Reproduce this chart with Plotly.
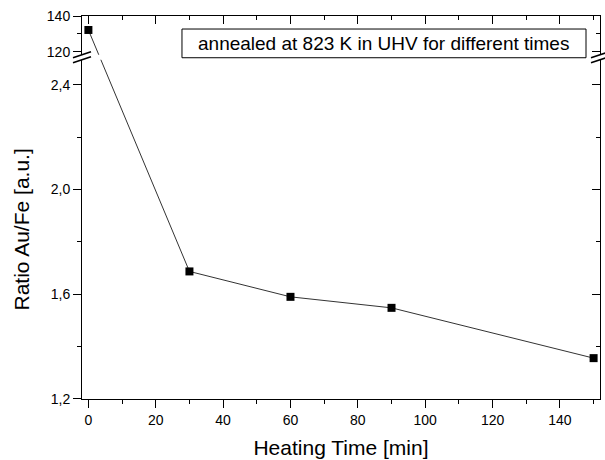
import plotly.graph_objects as go

# ---- data ----
heating_time = [0, 30, 60, 90, 150]
ratio_au_fe = [132.2, 1.687, 1.590, 1.548, 1.356]

x_title = "Heating Time [min]"
y_title = "Ratio Au/Fe [a.u.]"
note = "annealed at 823 K in UHV for different times"

# ---- axis settings (broken y-axis) ----
x_range = [-1.9, 151.9]
low_range = [1.2, 2.495]
up_range = [118.33, 140]
low_dom = [0.0, 0.8857]
up_dom = [0.8987, 1.0]
BREAK = 100  # values above this belong to the upper section

FONT = "Arial, Liberation Sans, sans-serif"


def low_to_frac(v):
    return low_dom[0] + (v - low_range[0]) / (low_range[1] - low_range[0]) * (low_dom[1] - low_dom[0])


def up_to_frac(v):
    return up_dom[0] + (v - up_range[0]) / (up_range[1] - up_range[0]) * (up_dom[1] - up_dom[0])


def frac_to_low(f):
    return low_range[0] + (f - low_dom[0]) / (low_dom[1] - low_dom[0]) * (low_range[1] - low_range[0])


def frac_to_up(f):
    return up_range[0] + (f - up_dom[0]) / (up_dom[1] - up_dom[0]) * (up_range[1] - up_range[0])


# map every point into each section's coordinates (same visual position)
frac = [up_to_frac(v) if v > BREAK else low_to_frac(v) for v in ratio_au_fe]
y_in_low = [frac_to_low(f) for f in frac]
y_in_up = [frac_to_up(f) for f in frac]

fig = go.Figure()

line_style = dict(color="#333333", width=1)

# connecting lines, clipped by each subplot
fig.add_trace(go.Scatter(x=heating_time, y=y_in_low, mode="lines", line=line_style,
                         xaxis="x", yaxis="y", showlegend=False, hoverinfo="skip"))
fig.add_trace(go.Scatter(x=heating_time, y=y_in_up, mode="lines", line=line_style,
                         xaxis="x2", yaxis="y2", showlegend=False, hoverinfo="skip"))

# markers
low_x = [t for t, v in zip(heating_time, ratio_au_fe) if v <= BREAK]
low_y = [v for v in ratio_au_fe if v <= BREAK]
up_x = [t for t, v in zip(heating_time, ratio_au_fe) if v > BREAK]
up_y = [v for v in ratio_au_fe if v > BREAK]
mk = dict(symbol="square", size=8, color="black")
fig.add_trace(go.Scatter(x=low_x, y=low_y, mode="markers", marker=mk,
                         xaxis="x", yaxis="y", showlegend=False, cliponaxis=False))
fig.add_trace(go.Scatter(x=up_x, y=up_y, mode="markers", marker=mk,
                         xaxis="x2", yaxis="y2", showlegend=False, cliponaxis=False))

# dummy traces to attach the mirrored right-side axes
fig.add_trace(go.Scatter(x=[None], y=[None], xaxis="x", yaxis="y3", showlegend=False, hoverinfo="skip"))
fig.add_trace(go.Scatter(x=[None], y=[None], xaxis="x2", yaxis="y4", showlegend=False, hoverinfo="skip"))

tickfont = dict(family=FONT, size=14, color="black")
common = dict(showgrid=False, zeroline=False, showline=True, linecolor="black", linewidth=1,
              tickcolor="black", tickwidth=1)

fig.update_layout(
    width=605, height=460,
    margin=dict(l=82, r=5, t=16, b=59),
    paper_bgcolor="white", plot_bgcolor="white",
    separators=", ",
    font=dict(family=FONT, color="black"),
    xaxis=dict(range=x_range, anchor="y", side="bottom", ticks="outside", ticklen=8,
               tick0=0, dtick=20, tickfont=tickfont,
               minor=dict(ticks="outside", ticklen=4, tick0=0, dtick=10, tickcolor="black"),
               title=dict(text=x_title, font=dict(family=FONT, size=21), standoff=13),
               **common),
    xaxis2=dict(range=x_range, anchor="y2", side="top", ticks="inside", ticklen=8,
                tick0=0, dtick=20, showticklabels=False,
                minor=dict(ticks="inside", ticklen=4, tick0=0, dtick=10, tickcolor="black"),
                **common),
    yaxis=dict(range=low_range, domain=low_dom, anchor="x", ticks="outside", ticklen=8,
               tick0=1.2, dtick=0.4, tickformat=".1f", tickfont=tickfont,
               minor=dict(ticks="outside", ticklen=4, tick0=1.2, dtick=0.2, tickcolor="black"),
               title=dict(text=y_title, font=dict(family=FONT, size=21), standoff=15),
               **common),
    yaxis2=dict(range=up_range, domain=up_dom, anchor="x2", ticks="outside", ticklen=8,
                tick0=120, dtick=20, tickfont=tickfont,
                minor=dict(ticks="outside", ticklen=4, tick0=120, dtick=10, tickcolor="black"),
                **common),
    yaxis3=dict(range=low_range, overlaying="y", anchor="x", side="right", ticks="inside",
                ticklen=8, tick0=1.2, dtick=0.4, showticklabels=False,
                minor=dict(ticks="inside", ticklen=4, tick0=1.2, dtick=0.2, tickcolor="black"),
                **common),
    yaxis4=dict(range=up_range, overlaying="y2", anchor="x2", side="right", ticks="inside",
                ticklen=8, tick0=120, dtick=20, showticklabels=False,
                minor=dict(ticks="inside", ticklen=4, tick0=120, dtick=10, tickcolor="black"),
                **common),
)

# break marks on left and right axes
shapes = []
for xa in (0, 1):
    for yb in (up_dom[0], low_dom[1]):
        shapes.append(dict(type="line", xref="paper", yref="paper",
                           xsizemode="pixel", ysizemode="pixel",
                           xanchor=xa, yanchor=yb,
                           x0=-9, x1=9, y0=-3, y1=3,
                           line=dict(color="black", width=1.5)))

# text box
shapes.append(dict(type="rect", xref="paper", yref="paper",
                   x0=0.193, x1=0.973, y0=0.891, y1=0.966,
                   line=dict(color="black", width=1), fillcolor="white", layer="above"))
fig.update_layout(shapes=shapes)

fig.add_annotation(text=note, xref="paper", yref="paper", x=0.583, y=0.9286,
                   xanchor="center", yanchor="middle", showarrow=False,
                   font=dict(family=FONT, size=19, color="black"))

fig.write_html("out.html")
